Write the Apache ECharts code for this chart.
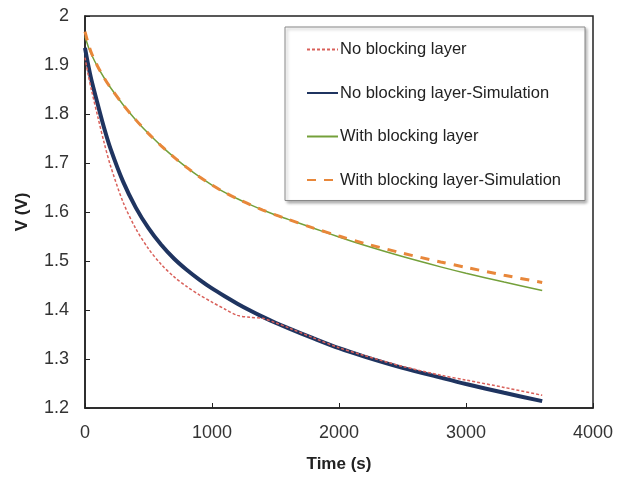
<!DOCTYPE html>
<html>
<head>
<meta charset="utf-8">
<script src="https://cdn.jsdelivr.net/npm/echarts@6/dist/echarts.min.js"></script>
<style>
  html, body { margin: 0; padding: 0; background: #fff; }
  #chart { width: 618px; height: 478px; }
</style>
</head>
<body>
<div id="chart"></div>
<script>
var timeSec = [0, 25, 50, 100, 150, 200, 300, 400, 500, 600, 700, 800, 900, 1000, 1100, 1200, 1300, 1400, 1500, 1600, 1800, 2000, 2200, 2500, 2800, 3000, 3300, 3600];

var noBlocking = [1.915, 1.88, 1.85, 1.795, 1.742, 1.695, 1.62, 1.566, 1.525, 1.493, 1.468, 1.448, 1.431, 1.416, 1.402, 1.389, 1.385, 1.383, 1.374, 1.364, 1.343, 1.323, 1.307, 1.285, 1.267, 1.257, 1.242, 1.226];
var noBlockingSim = [1.935, 1.90, 1.87, 1.82, 1.772, 1.73, 1.662, 1.609, 1.567, 1.533, 1.505, 1.482, 1.462, 1.444, 1.428, 1.413, 1.399, 1.386, 1.374, 1.363, 1.342, 1.322, 1.305, 1.282, 1.262, 1.249, 1.231, 1.214];
var withBlocking = [1.958, 1.938, 1.922, 1.896, 1.874, 1.854, 1.819, 1.788, 1.76, 1.735, 1.712, 1.691, 1.672, 1.655, 1.64, 1.627, 1.615, 1.604, 1.594, 1.585, 1.567, 1.549, 1.532, 1.509, 1.488, 1.475, 1.457, 1.44];
var withBlockingSim = [1.968, 1.944, 1.925, 1.897, 1.874, 1.854, 1.819, 1.788, 1.76, 1.735, 1.712, 1.691, 1.672, 1.655, 1.64, 1.627, 1.615, 1.604, 1.594, 1.585, 1.567, 1.551, 1.536, 1.516, 1.498, 1.487, 1.471, 1.456];

var seriesNames = ['No blocking layer', 'No blocking layer-Simulation', 'With blocking layer', 'With blocking layer-Simulation'];

function pairs(vals) {
  var out = [];
  for (var i = 0; i < timeSec.length; i++) {
    out.push([timeSec[i], vals[i]]);
  }
  return out;
}

var chart = echarts.init(document.getElementById('chart'));

var fontName = 'Liberation Sans, Arial, sans-serif';
var labelFont = { color: '#333', fontSize: 18, fontFamily: fontName };
var nameFont = { color: '#222', fontSize: 17, fontWeight: 'bold', fontFamily: fontName };

function makeSeries(idx, vals, color, width, dash, z) {
  return {
    name: seriesNames[idx],
    type: 'line',
    data: pairs(vals),
    showSymbol: false,
    symbol: 'none',
    smooth: 0.3,
    z: z,
    lineStyle: { color: color, width: width, type: dash },
    itemStyle: { color: color }
  };
}

var option = {
  animation: false,
  grid: {
    left: 85,
    right: 25,
    top: 16,
    bottom: 69,
    show: true,
    borderColor: '#222',
    borderWidth: 1.5
  },
  legend: {
    orient: 'vertical',
    left: 285,
    top: 27,
    data: seriesNames,
    itemWidth: 31,
    itemHeight: 14,
    itemGap: 26.5,
    padding: [14, 24, 12, 21],
    backgroundColor: '#fff',
    borderColor: '#888',
    borderWidth: 1,
    shadowColor: 'rgba(0,0,0,0.3)',
    shadowBlur: 3,
    shadowOffsetX: 2,
    shadowOffsetY: 2,
    itemStyle: { opacity: 0 },
    textStyle: { color: '#222', fontSize: 16.5, fontFamily: fontName, padding: [0, 0, 0, -3] }
  },
  xAxis: {
    type: 'value',
    min: 0,
    max: 4000,
    interval: 1000,
    name: 'Time (s)',
    nameLocation: 'middle',
    nameGap: 48,
    nameTextStyle: nameFont,
    axisLine: { lineStyle: { color: '#222', width: 1.5 } },
    axisTick: { inside: true, length: 5, lineStyle: { color: '#222' } },
    axisLabel: Object.assign({
      margin: 16,
      formatter: function (v) { return String(v); }
    }, labelFont),
    splitLine: { show: false }
  },
  yAxis: {
    type: 'value',
    min: 1.2,
    max: 2,
    interval: 0.1,
    name: 'V (V)',
    nameLocation: 'middle',
    nameGap: 54,
    nameTextStyle: nameFont,
    axisLine: { show: true, lineStyle: { color: '#222', width: 1.5 } },
    axisTick: { show: true, inside: true, length: 5, lineStyle: { color: '#222' } },
    axisLabel: Object.assign({
      margin: 16,
      formatter: function (v) { return parseFloat(v.toFixed(1)).toString(); }
    }, labelFont),
    splitLine: { show: false }
  },
  series: [
    makeSeries(0, noBlocking, '#d9605a', 1.5, [3, 2], 3),
    makeSeries(1, noBlockingSim, '#1f3460', 4, 'solid', 2),
    makeSeries(2, withBlocking, '#74a03a', 1.5, 'solid', 2),
    makeSeries(3, withBlockingSim, '#e8873a', 3, [9, 8], 3)
  ]
};

chart.setOption(option);
</script>
</body>
</html>
